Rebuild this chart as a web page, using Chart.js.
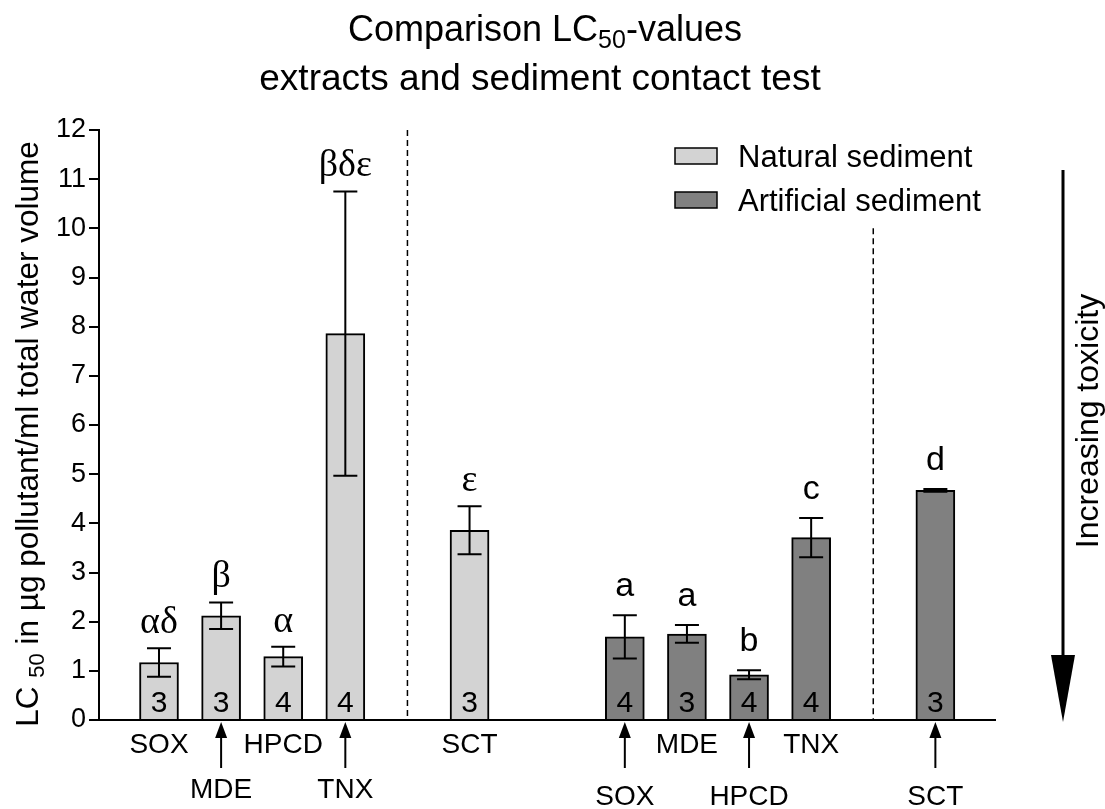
<!DOCTYPE html>
<html>
<head>
<meta charset="utf-8">
<style>
  html, body { margin: 0; padding: 0; background: #ffffff; }
  #wrap { width: 1105px; height: 809px; }
</style>
<script src="https://cdn.jsdelivr.net/npm/chart.js@4.4.1/dist/chart.umd.min.js"></script>
</head>
<body>
<div id="wrap"><canvas id="c" width="1105" height="809"></canvas></div>
<script>
// ---- data ----
const categories = ['SOX', 'MDE', 'HPCD', 'TNX', 'SCT'];
const naturalValues = [1.17, 2.12, 1.29, 7.86, 3.86];
const naturalErrors = [0.29, 0.27, 0.20, 2.89, 0.49];
const naturalN = [3, 3, 4, 4, 3];
const naturalLetters = ['αδ', 'β', 'α', 'βδε', 'ε'];
const artificialValues = [1.69, 1.75, 0.92, 3.71, 4.67];
const artificialErrors = [0.44, 0.18, 0.09, 0.40, 0.03];
const artificialN = [4, 3, 4, 4, 3];
const artificialLetters = ['a', 'a', 'b', 'c', 'd'];
const yTickValues = [0, 1, 2, 3, 4, 5, 6, 7, 8, 9, 10, 11, 12];
const seriesNames = ['Natural sediment', 'Artificial sediment'];

// ---- layout (slot positions on the x axis, label rows) ----
const naturalSlots = [0, 1, 2, 3, 5];
const artificialSlots = [7.5, 8.5, 9.5, 10.5, 12.5];
const naturalRows = [1, 2, 1, 2, 1];     // 1 = label under axis, 2 = arrow + lower label
const artificialRows = [2, 1, 2, 1, 2];
const dividers = [{ slot: 4, top: 12 }, { slot: 11.5, top: 10 }];

const SANS = "'Liberation Sans', Arial, Helvetica, sans-serif";
const SERIF = "'Liberation Serif', 'Times New Roman', serif";
Chart.defaults.font.family = SANS;
Chart.defaults.color = '#000';

function drawUpArrow(ctx, x, yTop, yBottom) {
  ctx.save();
  ctx.strokeStyle = '#000'; ctx.fillStyle = '#000'; ctx.lineWidth = 2;
  ctx.beginPath(); ctx.moveTo(x, yBottom); ctx.lineTo(x, yTop + 12); ctx.stroke();
  ctx.beginPath(); ctx.moveTo(x, yTop); ctx.lineTo(x - 6, yTop + 16); ctx.lineTo(x + 6, yTop + 16); ctx.closePath(); ctx.fill();
  ctx.restore();
}

function textWithSub(ctx, parts, x, y, align) {
  let total = 0;
  parts.forEach(p => { ctx.font = p.size + 'px ' + SANS; p.w = ctx.measureText(p.t).width; total += p.w; });
  let cx = align === 'center' ? x - total / 2 : x;
  ctx.textAlign = 'left';
  parts.forEach(p => {
    ctx.font = p.size + 'px ' + SANS;
    ctx.fillText(p.t, cx, y + (p.sub ? p.sub : 0));
    cx += p.w;
  });
}

const decor = {
  id: 'decor',
  afterDatasetsDraw(chart) {
    const ctx = chart.ctx;
    const xs = chart.scales.x, ys = chart.scales.y;
    const y0 = ys.getPixelForValue(0);
    ctx.save();
    ctx.fillStyle = '#000'; ctx.strokeStyle = '#000';

    // dashed dividers
    ctx.lineWidth = 1.5; ctx.setLineDash([6, 4]);
    dividers.forEach(d => {
      const x = xs.getPixelForValue(d.slot);
      ctx.beginPath(); ctx.moveTo(x, ys.getPixelForValue(d.top)); ctx.lineTo(x, y0); ctx.stroke();
    });
    ctx.setLineDash([]);

    const groups = [
      { slots: naturalSlots, vals: naturalValues, errs: naturalErrors, n: naturalN, letters: naturalLetters, font: '38px ' + SERIF, gap: 15, rows: naturalRows, row2: 798 },
      { slots: artificialSlots, vals: artificialValues, errs: artificialErrors, n: artificialN, letters: artificialLetters, font: '34px ' + SANS, gap: 19, rows: artificialRows, row2: 805 }
    ];
    groups.forEach(g => {
      g.slots.forEach((s, i) => {
        const x = xs.getPixelForValue(s);
        const yTop = ys.getPixelForValue(g.vals[i] + g.errs[i]);
        const yBot = ys.getPixelForValue(g.vals[i] - g.errs[i]);
        // error bar
        ctx.lineWidth = 2;
        ctx.beginPath();
        ctx.moveTo(x, yTop); ctx.lineTo(x, yBot);
        ctx.moveTo(x - 12, yTop); ctx.lineTo(x + 12, yTop);
        ctx.moveTo(x - 12, yBot); ctx.lineTo(x + 12, yBot);
        ctx.stroke();
        // significance letters
        ctx.textAlign = 'center'; ctx.textBaseline = 'alphabetic';
        ctx.font = g.font;
        ctx.fillText(g.letters[i], x, yTop - g.gap);
        // n inside bars
        ctx.font = '30px ' + SANS;
        ctx.fillText(String(g.n[i]), x, y0 - 8);
        // category labels below axis
        ctx.font = '28px ' + SANS;
        if (g.rows[i] === 1) {
          ctx.fillText(categories[i], x, 753);
        } else {
          drawUpArrow(ctx, x, y0 + 2, y0 + 48);
          ctx.fillText(categories[i], x, g.row2);
        }
      });
    });

    // legend
    const colors = ['#d3d3d3', '#808080'];
    seriesNames.forEach((name, i) => {
      const top = 148 + i * 44;
      ctx.fillStyle = colors[i];
      ctx.fillRect(675, top, 42, 16);
      ctx.lineWidth = 1.5; ctx.strokeStyle = '#000';
      ctx.strokeRect(675, top, 42, 16);
      ctx.fillStyle = '#000';
      ctx.font = '31px ' + SANS; ctx.textAlign = 'left';
      ctx.fillText(name, 738, top + 19);
    });

    // right side arrow + text
    ctx.lineWidth = 3;
    ctx.beginPath(); ctx.moveTo(1063, 170); ctx.lineTo(1063, 660); ctx.stroke();
    ctx.beginPath(); ctx.moveTo(1051, 655); ctx.lineTo(1075, 655); ctx.lineTo(1063, 722); ctx.closePath(); ctx.fill();
    ctx.save();
    ctx.translate(1098, 421); ctx.rotate(-Math.PI / 2);
    ctx.font = '32px ' + SANS; ctx.textAlign = 'center';
    ctx.fillText('Increasing toxicity', 0, 0);
    ctx.restore();

    // y axis title (rotated, with subscript)
    ctx.save();
    ctx.translate(38, 434); ctx.rotate(-Math.PI / 2);
    textWithSub(ctx, [
      { t: 'LC ', size: 31.5 },
      { t: '50', size: 22, sub: 6 },
      { t: ' in µg pollutant/ml total water volume', size: 31.5 }
    ], 0, 0, 'center');
    ctx.restore();

    // title
    textWithSub(ctx, [
      { t: 'Comparison LC', size: 36 },
      { t: '50', size: 25, sub: 7 },
      { t: '-values', size: 36 }
    ], 545, 41, 'center');
    ctx.font = '37px ' + SANS; ctx.textAlign = 'center';
    ctx.fillText('extracts and sediment contact test', 540, 90);

    ctx.restore();
  }
};

new Chart(document.getElementById('c'), {
  type: 'bar',
  data: {
    datasets: [
      {
        label: seriesNames[0],
        data: naturalSlots.map((s, i) => ({ x: s, y: naturalValues[i] })),
        backgroundColor: '#d3d3d3', borderColor: '#000', borderWidth: 2,
        barThickness: 39, grouped: false
      },
      {
        label: seriesNames[1],
        data: artificialSlots.map((s, i) => ({ x: s, y: artificialValues[i] })),
        backgroundColor: '#808080', borderColor: '#000', borderWidth: 2,
        barThickness: 39, grouped: false
      }
    ]
  },
  options: {
    responsive: false,
    animation: false,
    events: [],
    layout: { padding: { top: 130, bottom: 89, left: 0, right: 110 } },
    plugins: { legend: { display: false }, title: { display: false }, tooltip: { enabled: false } },
    scales: {
      x: {
        type: 'linear', min: -0.966, max: 13.46, offset: false,
        ticks: { display: false },
        grid: { display: false },
        border: { display: true, color: '#000', width: 2 },
        afterFit: s => { s.height = 0; }
      },
      y: {
        min: 0, max: 12,
        afterBuildTicks: s => { s.ticks = yTickValues.map(v => ({ value: v })); },
        ticks: { font: { size: 27, family: SANS }, color: '#000', padding: 3 },
        grid: { drawOnChartArea: false, drawTicks: true, tickLength: 10, color: '#000', lineWidth: 2 },
        border: { display: true, color: '#000', width: 2 },
        afterFit: s => { s.width = 99; }
      }
    }
  },
  plugins: [decor]
});
</script>
</body>
</html>
